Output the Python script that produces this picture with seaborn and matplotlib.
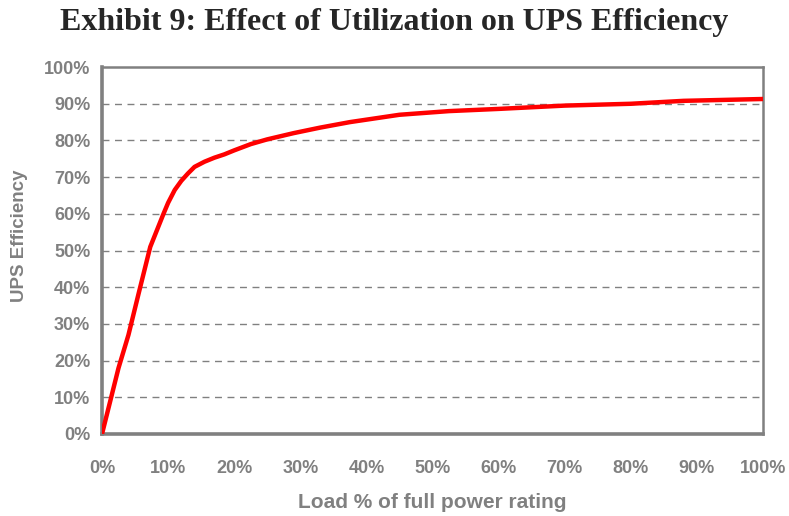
import pandas as pd
import seaborn as sns
import matplotlib.pyplot as plt
from matplotlib.ticker import PercentFormatter

# Values (load %, efficiency %)
load_pct = [0, 2.5, 4, 5.5, 7.3, 9.3, 10, 11, 12, 13, 14, 15.5, 17, 18.5,
            20, 22.5, 25, 29, 33, 37.5, 45, 52.5, 60, 70, 80, 88, 100]
efficiency_pct = [0, 18, 27, 38, 51, 60, 63, 66.5, 69, 71, 72.8, 74.2, 75.3,
                  76.2, 77.3, 79, 80.3, 82, 83.5, 85, 87, 88, 88.6, 89.5,
                  90, 90.8, 91.3]
tick_values = list(range(0, 101, 10))

gray = "#808080"

sns.set_style("white")
plt.rcParams["font.family"] = ["Liberation Sans", "DejaVu Sans"]

df = pd.DataFrame({"load": load_pct, "eff": efficiency_pct})

fig = plt.figure(figsize=(7.89, 5.16), dpi=100)
ax = fig.add_axes([0.1293, 0.159, 0.8377, 0.711])

# Dashed horizontal gridlines
for v in tick_values[1:-1]:
    ax.axhline(v, color=gray, linestyle=(0, (5, 4)), linewidth=1.0, zorder=1)

sns.lineplot(data=df, x="load", y="eff", color="#ff0000", linewidth=3.2,
             ax=ax, zorder=3)

ax.set_xlim(0, 100)
ax.set_ylim(0, 100)
ax.set_xticks(tick_values)
ax.set_yticks(tick_values)
ax.xaxis.set_major_formatter(PercentFormatter(decimals=0))
ax.yaxis.set_major_formatter(PercentFormatter(decimals=0))

for side in ["left", "bottom"]:
    ax.spines[side].set_color(gray)
    ax.spines[side].set_linewidth(2.6)
for side in ["top", "right"]:
    ax.spines[side].set_visible(True)
    ax.spines[side].set_color(gray)
    ax.spines[side].set_linewidth(1.8)

ax.tick_params(axis="both", which="major", direction="out", length=4.5,
               width=2.6, color=gray, labelcolor=gray, labelsize=13)
ax.tick_params(axis="x", pad=14)
ax.tick_params(axis="y", pad=4)
for lab in ax.get_xticklabels() + ax.get_yticklabels():
    lab.set_fontweight("bold")

ax.set_xlabel("Load % of full power rating", color=gray, fontsize=15,
              fontweight="bold")
ax.xaxis.set_label_coords(0.5, -0.16)
ax.set_ylabel("UPS Efficiency", color=gray, fontsize=13.5,
              fontweight="bold")
ax.yaxis.set_label_coords(-0.112, 0.54)

fig.text(0.5, 0.956, "Exhibit 9: Effect of Utilization on UPS Efficiency",
         ha="center", va="center", fontsize=23, fontweight="bold",
         family=["Liberation Serif", "DejaVu Serif"])

fig.savefig("out.png", dpi=100)
